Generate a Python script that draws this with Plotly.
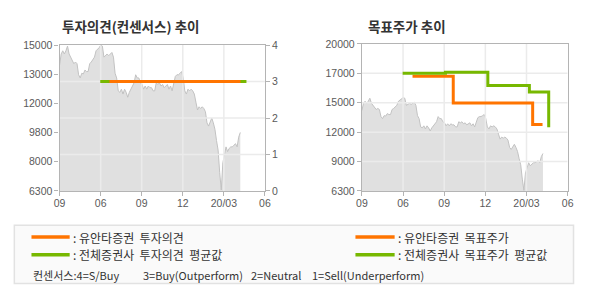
import numpy as np
import plotly.graph_objects as go

# ---------------- data ----------------
QUARTER_POS = [0, 1, 2, 3, 4, 5]
QUARTER_LABELS = ["09", "06", "09", "12", "20/03", "06"]

# stock price (won), sampled evenly in time from the first tick to the last trading day
PRICE = [13800, 14470, 14660, 14470, 14660, 14940, 14470, 14280, 14180, 13890,
         13990, 13890, 13230, 13040, 13320, 13280, 13510, 13420, 13420, 13890,
         13990, 14180, 14280, 14660, 14750, 14850, 15000, 14940, 14280, 14370,
         14470, 14370, 14470, 14560, 14280, 13320, 13040, 12270, 12180, 12370,
         12080, 12370, 12180, 11890, 12180, 12370, 12460, 12750, 13230, 13040,
         13040, 12750, 12650, 12370, 12560, 12370, 12560, 12460, 12460, 12270,
         12270, 12750, 12650, 12750, 12560, 12650, 12460, 12560, 12650, 12370,
         12560, 12270, 12650, 13130, 13230, 13230, 13320, 13420, 13040, 12270,
         12080, 12370, 12270, 12370, 12270, 12080, 11600, 11130, 11320, 11220,
         11320, 11220, 11030, 10360, 10170, 10360, 10650, 10360, 9980, 9310,
         8740, 7410, 6360, 7980, 8460, 8930, 8650, 8840, 8930, 8930,
         9030, 9120, 8930, 9510, 9790]
PRICE_LAST_POS = 4.40  # position (in quarters) of the last trading day

# investment opinion (consensus scale 1..4)
YUANTA_OP_X = [1.22, 4.40]
YUANTA_OP = [3, 3]
ALL_OP_X = [0.99, 4.55]
ALL_OP = [3, 3]

# target prices (won)
YUANTA_TP_X = [1.23, 2.22, 4.15, 4.39]
YUANTA_TP = [17000, 14500, 12500, 12500]
ALL_TP_X = [0.99, 2.03, 3.06, 4.07, 4.54]
ALL_TP = [17260, 17350, 16130, 15530, 12230]

LEFT_PRICE_TICKS = [6300, 8040, 9780, 11520, 13260, 15000]
LEFT_PRICE_TEXT = ["6300", "8000", "9800", "12000", "13000", "15000"]
OPINION_TICKS = [0, 1, 2, 3, 4]
RIGHT_PRICE_TICKS = [6300, 9040, 11780, 14520, 17260, 20000]
RIGHT_PRICE_TEXT = ["6300", "9000", "12000", "15000", "17000", "20000"]

# ---------------- styles ----------------
W, H = 590, 300
ORANGE = "#ff7400"
GREEN = "#77b800"
AREA_FILL = "#e0e0e0"
AREA_LINE = "#c2c2c2"
GRID = "#ebebeb"
AXIS = "#b4b4b4"
TICKC = "#5a5a5a"
KFONT = "Noto Sans CJK KR"
NFONT = "Liberation Sans"


def px(x):
    return x / W


def py(y):
    return 1 - y / H


P0, P1 = LEFT_PRICE_TICKS[0], LEFT_PRICE_TICKS[-1]
O0, O1 = OPINION_TICKS[0], OPINION_TICKS[-1]

price_x = np.arange(len(PRICE)) * (PRICE_LAST_POS / (len(PRICE) - 1))

fig = go.Figure()

# ---------- left chart: price area on left axis ----------
fig.add_trace(go.Scatter(x=price_x, y=PRICE, xaxis="x", yaxis="y", mode="lines",
                         line=dict(color=AREA_LINE, width=1), fill="tozeroy",
                         fillcolor=AREA_FILL, showlegend=False))
vx, vy = [], []
for q in QUARTER_POS[1:-1]:
    vx += [q, q, None]
    vy += [P0, P1, None]
fig.add_trace(go.Scatter(x=vx, y=vy, xaxis="x", yaxis="y", mode="lines",
                         line=dict(color=GRID, width=1.5), showlegend=False))
# ---------- left chart: opinion lines on right axis ----------
hx, hy = [], []
for t in OPINION_TICKS[1:-1]:
    hx += [QUARTER_POS[0], QUARTER_POS[-1], None]
    hy += [t, t, None]
fig.add_trace(go.Scatter(x=hx, y=hy, xaxis="x", yaxis="y2", mode="lines",
                         line=dict(color=GRID, width=1.5), showlegend=False))
fig.add_trace(go.Scatter(x=ALL_OP_X, y=ALL_OP, xaxis="x", yaxis="y2", mode="lines",
                         line=dict(color=GREEN, width=3), showlegend=False))
fig.add_trace(go.Scatter(x=YUANTA_OP_X, y=YUANTA_OP, xaxis="x", yaxis="y2", mode="lines",
                         line=dict(color=ORANGE, width=3), showlegend=False))
# keep the house opinion visibly on top of the consensus line (same axes, same data)
for i in range(len(YUANTA_OP_X) - 1):
    fig.add_shape(type="line", xref="x", yref="y2", x0=YUANTA_OP_X[i], x1=YUANTA_OP_X[i + 1],
                  y0=YUANTA_OP[i], y1=YUANTA_OP[i + 1], line=dict(color=ORANGE, width=3),
                  layer="above")

# ---------- right chart ----------
fig.add_trace(go.Scatter(x=price_x, y=PRICE, xaxis="x2", yaxis="y3", mode="lines",
                         line=dict(color=AREA_LINE, width=1), fill="tozeroy",
                         fillcolor=AREA_FILL, showlegend=False))
rx, ry = [], []
for q in QUARTER_POS[1:-1]:
    rx += [q, q, None]
    ry += [RIGHT_PRICE_TICKS[0], RIGHT_PRICE_TICKS[-1], None]
for t in RIGHT_PRICE_TICKS[1:-1]:
    rx += [QUARTER_POS[0], QUARTER_POS[-1], None]
    ry += [t, t, None]
fig.add_trace(go.Scatter(x=rx, y=ry, xaxis="x2", yaxis="y3", mode="lines",
                         line=dict(color=GRID, width=1.5), showlegend=False))
fig.add_trace(go.Scatter(x=YUANTA_TP_X, y=YUANTA_TP, xaxis="x2", yaxis="y3", mode="lines",
                         line=dict(color=ORANGE, width=3, shape="hv"), showlegend=False))
fig.add_trace(go.Scatter(x=ALL_TP_X, y=ALL_TP, xaxis="x2", yaxis="y3", mode="lines",
                         line=dict(color=GREEN, width=3, shape="hv"), showlegend=False))

tickfont = dict(family=NFONT, size=10.5, color=TICKC)
xcommon = dict(range=[QUARTER_POS[0], QUARTER_POS[-1]], tickvals=QUARTER_POS,
               ticktext=QUARTER_LABELS, showgrid=False, zeroline=False, showline=True,
               linecolor=AXIS, linewidth=1.2, mirror=True, ticks="outside", ticklen=4,
               tickcolor=AXIS, tickfont=tickfont, ticklabelstandoff=-2)
ycommon = dict(showgrid=False, zeroline=False, showline=True, linecolor=AXIS,
               linewidth=1.2, mirror=True, ticks="outside", ticklen=4, tickcolor=AXIS,
               tickfont=tickfont)

fig.update_layout(
    width=W, height=H, margin=dict(l=0, r=0, t=0, b=0),
    paper_bgcolor="white", plot_bgcolor="white", showlegend=False, hovermode=False,
    xaxis=dict(domain=[px(54.7), px(264.3)], anchor="y", **xcommon),
    yaxis=dict(domain=[py(192.7), py(40.7)], anchor="x", range=[P0, P1],
               tickvals=LEFT_PRICE_TICKS, ticktext=LEFT_PRICE_TEXT, **ycommon),
    yaxis2=dict(overlaying="y", side="right", anchor="x", range=[O0, O1],
                tickvals=OPINION_TICKS, showgrid=False, zeroline=False, showline=False,
                ticks="outside", ticklen=4, tickcolor=AXIS, tickfont=tickfont),
    xaxis2=dict(domain=[px(363.3), px(573.3)], anchor="y3", **xcommon),
    yaxis3=dict(domain=[py(192.7), py(39.5)], anchor="x2",
                range=[RIGHT_PRICE_TICKS[0], RIGHT_PRICE_TICKS[-1]],
                tickvals=RIGHT_PRICE_TICKS, ticktext=RIGHT_PRICE_TEXT, **ycommon),
)

# ---------- titles ----------
fig.add_annotation(text="<b>투자의견(컨센서스) 추이</b>", x=px(55), y=py(20.5), xref="paper",
                   yref="paper", xanchor="left", yanchor="middle", showarrow=False,
                   font=dict(family=KFONT, size=13.5, color="#333333"))
fig.add_annotation(text="<b>목표주가 추이</b>", x=px(367), y=py(20.5), xref="paper",
                   yref="paper", xanchor="left", yanchor="middle", showarrow=False,
                   font=dict(family=KFONT, size=13.5, color="#333333"))

# ---------- legend box ----------
fig.add_shape(type="rect", xref="paper", yref="paper", x0=px(8.5), x1=px(579.3),
              y0=py(289), y1=py(228.5), fillcolor="#fafafa",
              line=dict(color="#e2e2e2", width=1.5), layer="below")
legend_items = [
    (26, 65, 240.7, ORANGE, ": 유안타증권  투자의견"),
    (26, 65, 259.0, GREEN, ": 전체증권사  투자의견  평균값"),
    (356.7, 396.7, 240.7, ORANGE, ": 유안타증권  목표주가"),
    (356.7, 396.7, 259.0, GREEN, ": 전체증권사  목표주가  평균값"),
]
for x0, x1, yy, col, label in legend_items:
    fig.add_shape(type="line", xref="paper", yref="paper", x0=px(x0), x1=px(x1),
                  y0=py(yy), y1=py(yy), line=dict(color=col, width=3.5))
    fig.add_annotation(text=label, x=px(x1 + 1.5), y=py(yy), xref="paper", yref="paper",
                       xanchor="left", yanchor="middle", showarrow=False,
                       font=dict(family=KFONT, size=12, color="#333333"))

consensus = [(25.8, "컨센서스:4=S/Buy"), (137.3, "3=Buy(Outperform)"),
             (247.6, "2=Neutral"), (310.8, "1=Sell(Underperform)")]
for xx, label in consensus:
    fig.add_annotation(text=label, x=px(xx), y=py(280.5), xref="paper", yref="paper",
                       xanchor="left", yanchor="middle", showarrow=False,
                       font=dict(family=KFONT, size=11, color="#333333"))

fig.write_html("out.html")
